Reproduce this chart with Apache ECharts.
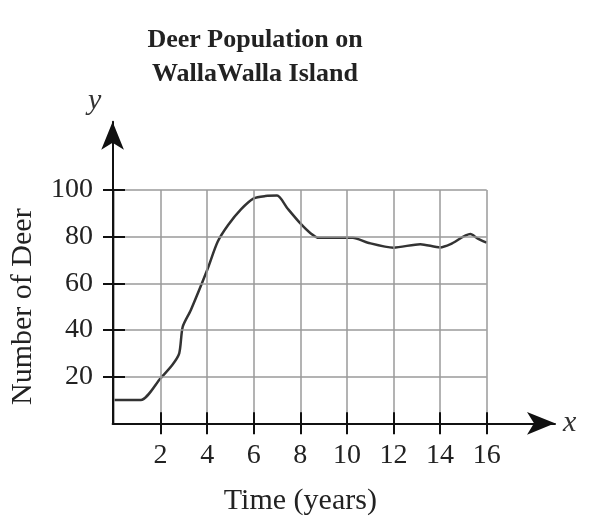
<!DOCTYPE html>
<html>
<head>
<meta charset="utf-8">
<script src="https://cdn.jsdelivr.net/npm/echarts@6/dist/echarts.min.js"></script>
<style>
html,body{margin:0;padding:0;background:#fff;}
#chart{width:614px;height:530px;}
</style>
</head>
<body>
<div id="chart"></div>
<script>
// Data
const years = [0, 1.15, 2, 2.5, 2.8, 2.95, 3.3, 4, 4.45, 4.9, 5.45, 6, 6.5, 7, 7.45, 8, 8.45, 8.8, 10.25, 10.9, 12, 13.15, 14, 14.45, 15.3, 15.6, 16];
const deer  = [10, 10, 19.3, 25, 30, 41.4, 48.6, 65.7, 77.8, 85, 91.7, 96.4, 97.4, 97.6, 92.1, 85.7, 81.4, 79.5, 79.5, 77.4, 75.3, 76.8, 75.4, 76.8, 81.1, 79.3, 77.4];
const xTicks = [2, 4, 6, 8, 10, 12, 14, 16];
const yTicks = [20, 40, 60, 80, 100];
const titleLines = ['Deer Population on', 'WallaWalla Island'];
const xName = 'Time (years)';
const yName = 'Number of Deer';

const font = '"Liberation Serif", "Times New Roman", serif';
const points = years.map((x, i) => [x, deer[i]]);

const G = {left: 112.6, top: 190, right: 614 - 486.7, bottom: 530 - 423.3};
const tickStyle = {color: '#111', width: 2};
const T = 11; // half tick length (ticks cross the axis)

const chart = echarts.init(document.getElementById('chart'), null, {renderer: 'canvas'});
chart.setOption({
  backgroundColor: '#fff',
  animation: false,
  graphic: [{
    type: 'text', x: 255, y: 23,
    style: {text: titleLines.join('\n'), font: 'bold 26px ' + font, fill: '#222',
            textAlign: 'center', lineHeight: 34}
  }],
  grid: [
    {left: G.left, top: G.top, right: G.right, bottom: G.bottom},
    {left: G.left, top: 121.7, right: 614 - 555, bottom: G.bottom}
  ],
  xAxis: [
    {type: 'value', gridIndex: 0, min: 0, max: 16, interval: 2, z: 5,
     axisLine: {show: false},
     splitLine: {show: true, lineStyle: {color: '#9a9a9a', width: 1.5}},
     axisLabel: {show: false}, axisTick: {show: false}},
    {type: 'value', gridIndex: 0, min: 0, max: 16, interval: 2, position: 'bottom', offset: -T, z: 5,
     axisLine: {show: false},
     axisTick: {show: true, length: 2 * T, inside: false, customValues: xTicks, lineStyle: tickStyle},
     axisLabel: {customValues: xTicks, margin: 18 + T, fontFamily: font, fontSize: 28, color: '#222'},
     splitLine: {show: false},
     name: xName, nameLocation: 'middle', nameGap: 63 + T,
     nameTextStyle: {fontFamily: font, fontSize: 30, color: '#222'}},
    {type: 'value', gridIndex: 1, min: 0, max: 1, position: 'bottom', z: 5,
     axisLine: {show: true, onZero: false, symbol: ['none', 'arrow'], symbolSize: [17, 28],
                lineStyle: {color: '#111', width: 2}},
     axisTick: {show: false}, axisLabel: {show: false}, splitLine: {show: false},
     name: 'x', nameLocation: 'end', nameGap: 8,
     nameTextStyle: {fontFamily: font, fontSize: 30, fontStyle: 'italic', color: '#333'}}
  ],
  yAxis: [
    {type: 'value', gridIndex: 0, min: 0, max: 100, interval: 20, z: 5,
     axisLine: {show: false},
     splitLine: {show: true, lineStyle: {color: '#9a9a9a', width: 1.5}},
     axisLabel: {show: false}, axisTick: {show: false}},
    {type: 'value', gridIndex: 0, min: 0, max: 100, interval: 20, position: 'left', offset: -T, z: 5,
     axisLine: {show: false},
     axisTick: {show: true, length: 2 * T, inside: false, customValues: yTicks, lineStyle: tickStyle},
     axisLabel: {customValues: yTicks, margin: 21 + T, fontFamily: font, fontSize: 28, color: '#222'},
     splitLine: {show: false},
     name: yName, nameLocation: 'middle', nameGap: 76 + T, nameRotate: 90,
     nameTextStyle: {fontFamily: font, fontSize: 30, color: '#222'}},
    {type: 'value', gridIndex: 1, min: 0, max: 1, position: 'left', z: 5,
     axisLine: {show: true, onZero: false, symbol: ['none', 'arrow'], symbolSize: [17, 28],
                lineStyle: {color: '#111', width: 2}},
     axisTick: {show: false}, axisLabel: {show: false}, splitLine: {show: false},
     name: 'y', nameLocation: 'end', nameGap: 6,
     nameTextStyle: {fontFamily: font, fontSize: 30, fontStyle: 'italic', color: '#333',
                     padding: [0, 36, 0, 0]}}
  ],
  series: [{
    type: 'line', xAxisIndex: 0, yAxisIndex: 0, data: points,
    smooth: 0.25, showSymbol: false, symbol: 'none', z: 4,
    lineStyle: {color: '#333', width: 2.5}
  }]
});
</script>
</body>
</html>
